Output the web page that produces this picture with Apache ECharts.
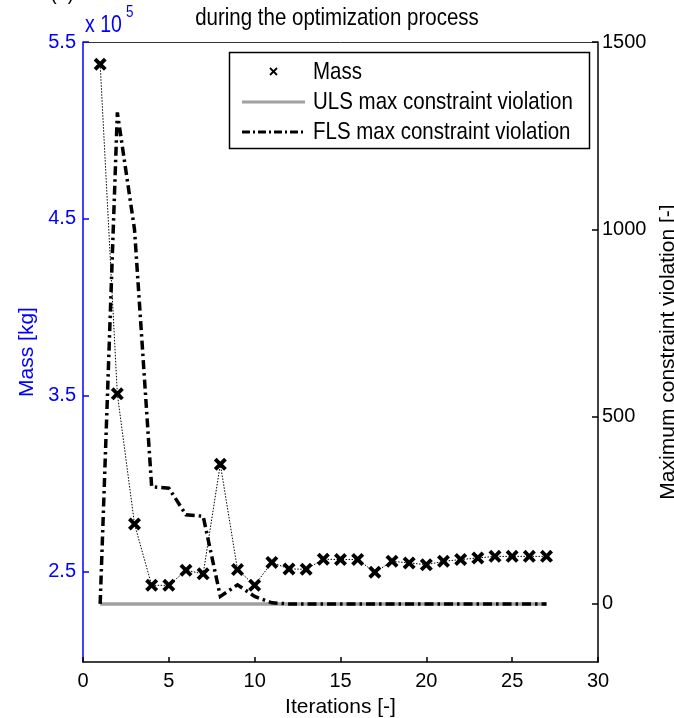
<!DOCTYPE html>
<html><head><meta charset="utf-8">
<script src="https://cdn.jsdelivr.net/npm/echarts@6/dist/echarts.min.js"></script>
<style>html,body{margin:0;padding:0;background:#fff}#c{width:674px;height:718px}</style>
</head><body><div id="c"></div>
<script>
const iterations = [1,2,3,4,5,6,7,8,9,10,11,12,13,14,15,16,17,18,19,20,21,22,23,24,25,26,27];
const massKg = [537400,350800,277100,242400,242400,250900,248900,311000,251300,242400,255400,251700,251500,257200,257000,257000,249800,256000,255100,254100,256000,257000,257900,258800,258800,258800,258800];
const ulsViolation = [0,0,0,0,0,0,0,0,0,0,0,0,0,0,0,0,0,0,0,0,0,0,0,0,0,0,0];
const flsViolation = [0,1312,1000,313,309,238,234,20,51,20,3,0,0,0,0,0,0,0,0,0,0,0,0,0,0,0,0];
const massTicks = [250000,350000,450000,550000];
const violationTicks = [0,500,1000,1500];
const massRange = [199000, 550000];
const violationRange = [-155, 1500];
const iterRange = [0, 30];

const FONT = 'Liberation Sans';
const BLUE = '#0000ff';
const xMarker = 'path://M0,2.1L2.1,0L5,2.9L7.9,0L10,2.1L7.1,5L10,7.9L7.9,10L5,7.1L2.1,10L0,7.9L2.9,5Z';
const pairs = arr => iterations.map((it, i) => [it, arr[i]]);
const tallText = (x, y, text, size, color, align) => ({
  type: 'text', x: x, y: y, scaleY: 1.2, originX: 0, originY: 0, z: 11,
  style: {text: text, font: size + 'px "Liberation Sans"', fill: color, align: align || 'left', verticalAlign: 'middle'}
});

const chart = echarts.init(document.getElementById('c'), null, {renderer: 'canvas'});
chart.setOption({
  animation: false,
  backgroundColor: '#fff',
  textStyle: {fontFamily: FONT},
  grid: {left: 83, right: 76, top: 42, bottom: 56, containLabel: false, outerBoundsMode: 'none'},
  xAxis: [{
    type: 'value', min: iterRange[0], max: iterRange[1], interval: 5,
    position: 'bottom',
    name: 'Iterations [-]', nameLocation: 'middle', nameGap: 35,
    nameTextStyle: {fontFamily: FONT, fontSize: 21, color: '#000'},
    axisLine: {show: true, onZero: false, lineStyle: {color: '#000', width: 1.5}},
    axisTick: {show: true, inside: true, length: 5, lineStyle: {color: '#000', width: 1.5}},
    axisLabel: {fontFamily: FONT, fontSize: 20, color: '#000', margin: 9},
    splitLine: {show: false}
  }, {
    type: 'value', min: iterRange[0], max: iterRange[1], interval: 5,
    position: 'top',
    axisLine: {show: true, onZero: false, lineStyle: {color: '#333', width: 1}},
    axisTick: {show: false}, axisLabel: {show: false}, splitLine: {show: false}
  }],
  yAxis: [{
    type: 'value', min: massRange[0], max: massRange[1], position: 'left',
    name: 'Mass [kg]', nameLocation: 'middle', nameGap: 40, nameRotate: 90,
    nameTextStyle: {fontFamily: FONT, fontSize: 21, color: BLUE},
    axisLine: {show: true, onZero: false, lineStyle: {color: BLUE, width: 1.5}},
    axisTick: {show: true, inside: true, length: 6, customValues: massTicks, lineStyle: {color: BLUE, width: 1.5}},
    axisLabel: {fontFamily: FONT, fontSize: 20, color: BLUE, margin: 7, customValues: massTicks,
      formatter: v => (v / 1e5).toFixed(1)},
    splitLine: {show: false}
  }, {
    type: 'value', min: violationRange[0], max: violationRange[1], position: 'right',
    name: 'Maximum constraint violation [-]', nameLocation: 'middle', nameGap: 49, nameRotate: 90,
    nameTextStyle: {fontFamily: FONT, fontSize: 21, color: '#000'},
    axisLine: {show: true, onZero: false, lineStyle: {color: '#000', width: 1.5}},
    axisTick: {show: true, inside: true, length: 6, customValues: violationTicks, lineStyle: {color: '#000', width: 1.5}},
    axisLabel: {fontFamily: FONT, fontSize: 20, color: '#000', margin: 4, customValues: violationTicks,
      formatter: v => String(v)},
    splitLine: {show: false}
  }],
  series: [{
    name: 'ULS max constraint violation', type: 'line', yAxisIndex: 1,
    data: pairs(ulsViolation), showSymbol: false, symbol: 'none',
    lineStyle: {color: '#a0a0a0', width: 3.5}, z: 2
  }, {
    name: 'FLS max constraint violation', type: 'line', yAxisIndex: 1,
    data: pairs(flsViolation), showSymbol: false, symbol: 'none',
    lineStyle: {color: '#000', width: 3.5, type: [9, 4, 2.5, 4], join: 'miter'}, z: 3
  }, {
    name: 'Mass', type: 'line', yAxisIndex: 0,
    data: pairs(massKg), symbol: xMarker, symbolSize: 13,
    itemStyle: {color: '#000'},
    lineStyle: {color: '#000', width: 1, type: [1.5, 1.5]}, z: 4
  }],
  graphic: [
    tallText(337, 18, 'during the optimization process', 20.5, '#000', 'center'),
    tallText(50, -8, '(b)', 20, '#000'),
    tallText(85, 26, 'x 10', 19.5, BLUE),
    tallText(126, 13, '5', 13.5, BLUE),
    {type: 'rect', shape: {x: 229.5, y: 52.5, width: 360, height: 96}, style: {fill: '#fff', stroke: '#000', lineWidth: 1.5}, z: 10},
    {type: 'line', shape: {x1: 270, y1: 68, x2: 277, y2: 75}, style: {stroke: '#000', lineWidth: 1.8}, z: 11},
    {type: 'line', shape: {x1: 277, y1: 68, x2: 270, y2: 75}, style: {stroke: '#000', lineWidth: 1.8}, z: 11},
    {type: 'line', shape: {x1: 242, y1: 102, x2: 305, y2: 102}, style: {stroke: '#a0a0a0', lineWidth: 3}, z: 11},
    {type: 'line', shape: {x1: 242, y1: 132, x2: 305, y2: 132}, style: {stroke: '#000', lineWidth: 3, lineDash: [8, 3, 2, 3]}, z: 11},
    tallText(313, 72, 'Mass', 20.5, '#000'),
    tallText(313, 102, 'ULS max constraint violation', 20.5, '#000'),
    tallText(313, 132, 'FLS max constraint violation', 20.5, '#000')
  ]
});
</script></body></html>
